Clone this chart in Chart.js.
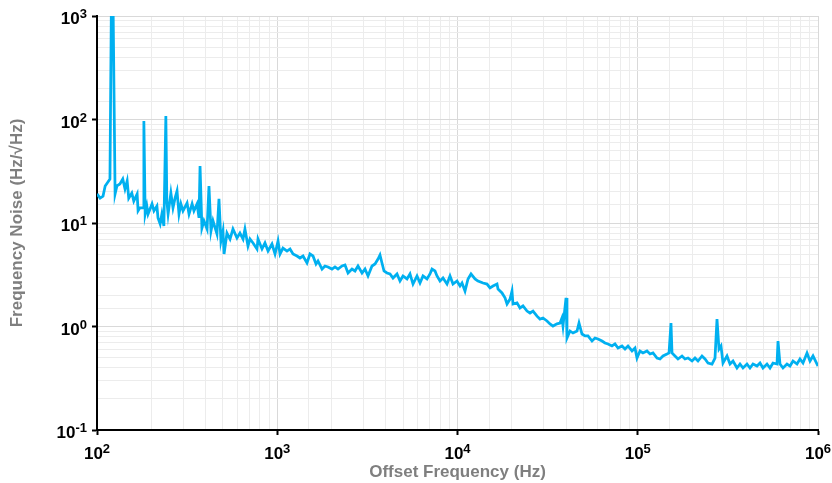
<!DOCTYPE html>
<html>
<head>
<meta charset="utf-8">
<title>Frequency Noise</title>
<script src="https://cdn.jsdelivr.net/npm/chart.js@4.4.1/dist/chart.umd.min.js"></script>
<style>
  html, body { margin: 0; padding: 0; background: #fff; }
  #wrap { width: 832px; height: 483px; }
</style>
</head>
<body>
<div id="wrap"><canvas id="noiseChart" width="832" height="483"></canvas></div>
<script>
// offset frequency (Hz)
const freqHz = [
  100, 104, 108, 111, 115, 118, 120, 123, 126, 129, 134, 139, 143, 147, 150, 156, 160, 167, 169, 173,
  180, 182, 185, 189, 192, 202, 207, 215, 218, 224, 229, 235, 241, 244, 248, 257, 264, 271, 278, 285,
  292, 300, 316, 324, 337, 345, 359, 368, 373, 382, 392, 408, 418, 429, 440, 463, 475, 487, 500, 507,
  526, 547, 568, 598, 621, 646, 662, 688, 706, 734, 772, 782, 823, 855, 889, 935, 972, 1010, 1036, 1076,
  1133, 1177, 1223, 1287, 1337, 1390, 1462, 1519, 1579, 1641, 1683, 1772, 1840, 1912, 2012, 2091, 2173, 2287, 2376, 2470,
  2598, 2700, 2805, 2953, 3068, 3188, 3355, 3486, 3623, 3715, 3811, 3910, 4063, 4222, 4387, 4617, 4797, 4984, 5246, 5451,
  5664, 5961, 6194, 6436, 6773, 7038, 7220, 7502, 7696, 7997, 8309, 8745, 9087, 9441, 9936, 10325, 10593, 11006, 11437, 11883,
  12507, 12995, 13854, 14580, 15150, 15740, 16565, 16778, 17658, 18347, 18821, 19558, 20065, 20320, 21386, 22220, 23088, 24300, 25250, 26240,
  27610, 28690, 29810, 31370, 32600, 33870, 35650, 37050, 37990, 38480, 40000, 40500, 42090, 43730, 46030, 47220, 49060, 50990, 52970, 55740,
  57920, 60180, 63340, 65810, 68380, 71950, 74780, 77700, 81770, 84980, 88290, 92920, 96540, 99040, 102900, 106900, 112500, 117000, 121500, 127900,
  132900, 138100, 145300, 149100, 152900, 154900, 160900, 167200, 176000, 182900, 190000, 200000, 207800, 215900, 227200, 236100, 245300, 258200, 268300, 275200,
  282300, 289600, 297100, 312700, 325000, 337600, 355300, 369200, 383600, 403700, 419500, 435900, 458700, 476700, 495300, 521200, 541600, 562800, 592300, 600000,
  615400, 639500, 673000, 699300, 726600, 764700, 794600, 825600, 869000, 902800, 938300, 1000000
];

// frequency noise (Hz/√Hz)
const noise = [
  19.1, 17.4, 18.2, 22.8, 24.9, 26.6, 1000, 1000, 19.1, 22.8, 23.8, 26.6, 21.3, 25.5, 17.4, 19.5, 16.3, 19.1, 13.1, 14.0,
  14.0, 96.7, 12.2, 14.6, 12.2, 15.3, 13.1, 14.6, 11.2, 9.8, 12.2, 9.35, 108, 16.3, 12.2, 19.5, 14.0, 17.4, 20.4, 12.2,
  15.3, 13.1, 15.6, 12.2, 15.3, 13.1, 15.3, 11.2, 35.5, 8.95, 10.5, 8.75, 22.8, 8.37, 10.5, 7.83, 17.1, 6.7, 8.37, 5.02,
  8.0, 7.0, 8.75, 7.16, 8.0, 7.0, 8.75, 6.0, 7.0, 6.41, 5.61, 7.0, 5.61, 6.41, 5.36, 6.27, 5.02, 6.7, 5.02, 5.73,
  5.36, 5.61, 5.02, 4.8, 4.59, 4.8, 4.11, 5.02, 4.8, 4.02, 4.3, 3.59, 3.84, 3.76, 3.59, 3.76, 3.59, 3.84, 3.93, 3.29,
  3.59, 3.44, 3.84, 3.29, 3.59, 3.08, 3.84, 4.02, 4.49, 4.91, 4.11, 3.44, 3.29, 3.22, 2.94, 3.22, 2.75, 3.08, 2.88, 3.22,
  2.57, 3.08, 2.63, 3.08, 2.88, 3.22, 3.59, 3.44, 3.08, 2.75, 2.94, 2.57, 3.08, 2.57, 2.75, 2.46, 2.63, 2.20, 2.88, 3.22,
  2.88, 2.75, 2.63, 2.57, 2.36, 2.46, 2.57, 2.30, 2.11, 1.89, 1.65, 1.84, 2.20, 1.65, 1.69, 1.51, 1.58, 1.41, 1.35, 1.41,
  1.26, 1.18, 1.21, 1.13, 1.06, 1.01, 1.06, 1.08, 1.21, 1.01, 1.89, 0.774, 0.905, 0.865, 0.905, 1.08, 0.846, 0.81, 0.81, 0.724,
  0.774, 0.757, 0.724, 0.693, 0.678, 0.648, 0.678, 0.62, 0.648, 0.606, 0.648, 0.58, 0.62, 0.496, 0.58, 0.555, 0.58, 0.542, 0.555, 0.496,
  0.485, 0.519, 0.542, 0.555, 1.08, 0.555, 0.519, 0.485, 0.519, 0.485, 0.496, 0.464, 0.496, 0.464, 0.519, 0.485, 0.444, 0.434, 0.496, 1.18,
  0.606, 0.648, 0.444, 0.519, 0.434, 0.464, 0.397, 0.434, 0.397, 0.434, 0.397, 0.434, 0.415, 0.444, 0.397, 0.434, 0.397, 0.444, 0.434, 0.724,
  0.434, 0.397, 0.434, 0.415, 0.464, 0.434, 0.485, 0.444, 0.555, 0.464, 0.519, 0.415
];

// decade tick labels, written as base 10 + exponent
const xTickExp = [2, 3, 4, 5, 6];
const yTickExp = [-1, 0, 1, 2, 3];

const points = freqHz.map((f, i) => ({ x: f, y: noise[i] }));

const FONT = '"Liberation Sans", Arial, sans-serif';

function isDecade(v) {
  const l = Math.log10(v);
  return Math.abs(l - Math.round(l)) < 1e-6;
}

// draws "10" with a raised exponent, like the Excel labels
function drawPow(ctx, exp, x, baseline, align) {
  const base = '10';
  const sup = String(exp);
  ctx.font = 'bold 17px ' + FONT;
  const wb = ctx.measureText(base).width;
  ctx.font = 'bold 13px ' + FONT;
  const ws = ctx.measureText(sup).width;
  const total = wb + ws;
  const left = align === 'right' ? x - total : x - total / 2;
  ctx.fillStyle = '#000';
  ctx.textAlign = 'left';
  ctx.textBaseline = 'alphabetic';
  ctx.font = 'bold 17px ' + FONT;
  ctx.fillText(base, left, baseline);
  ctx.font = 'bold 13px ' + FONT;
  ctx.fillText(sup, left + wb, baseline - 6);
}

const powLabels = {
  id: 'powLabels',
  afterDraw(chart) {
    const ctx = chart.ctx;
    const xs = chart.scales.x;
    const ys = chart.scales.y;
    ctx.save();
    xTickExp.forEach(e => {
      drawPow(ctx, e, xs.getPixelForValue(Math.pow(10, e)), ys.bottom + 29, 'center');
    });
    yTickExp.forEach(e => {
      drawPow(ctx, e, xs.left - 10, ys.getPixelForValue(Math.pow(10, e)) + 8, 'right');
    });
    ctx.restore();
  }
};

const gridColor = c => isDecade(c.tick.value) ? '#d9d9d9' : '#ececec';
const tickColor = c => isDecade(c.tick.value) ? '#000' : 'rgba(0,0,0,0)';

new Chart(document.getElementById('noiseChart'), {
  type: 'line',
  data: {
    datasets: [{
      data: points,
      borderColor: '#00b0f0',
      borderWidth: 2.75,
      pointRadius: 0,
      tension: 0,
      fill: false
    }]
  },
  options: {
    responsive: false,
    animation: false,
    layout: { padding: { top: 16, right: 14, left: 0, bottom: 0 } },
    plugins: { legend: { display: false }, tooltip: { enabled: false } },
    scales: {
      x: {
        type: 'logarithmic',
        min: 100,
        max: 1000000,
        border: { color: '#000', width: 2 },
        grid: { color: gridColor, tickColor: tickColor, tickLength: 5, tickWidth: 2 },
        ticks: { autoSkip: false, maxRotation: 0, callback: () => '' },
        title: {
          display: true,
          text: 'Offset Frequency (Hz)',
          color: '#7f7f7f',
          font: { family: FONT, size: 17, weight: 'bold' },
          padding: { top: 0, bottom: 0 }
        },
        afterFit: s => { s.height = 53; }
      },
      y: {
        type: 'logarithmic',
        min: 0.1,
        max: 1000,
        border: { color: '#000', width: 2 },
        grid: { color: gridColor, tickColor: tickColor, tickLength: 5, tickWidth: 2 },
        ticks: { autoSkip: false, callback: () => '' },
        title: {
          display: true,
          text: 'Frequency Noise (Hz/√Hz)',
          color: '#7f7f7f',
          font: { family: FONT, size: 17, weight: 'bold' },
          padding: { top: 7, bottom: 0 }
        },
        afterFit: s => { s.width = 97; }
      }
    }
  },
  plugins: [powLabels]
});
</script>
</body>
</html>
